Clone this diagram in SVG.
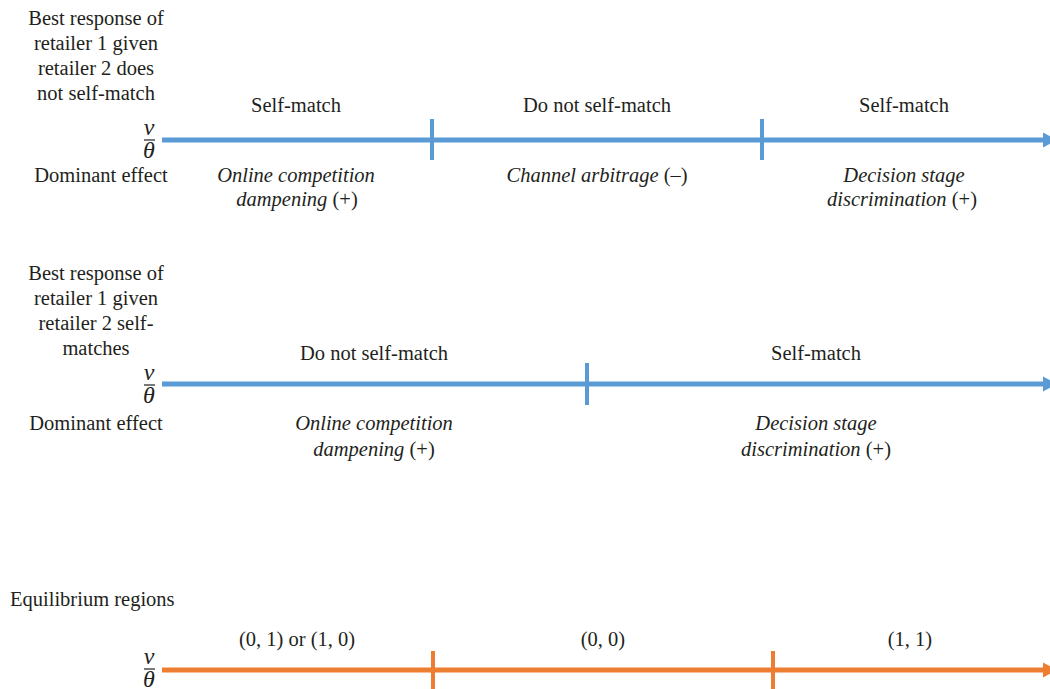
<svg xmlns="http://www.w3.org/2000/svg" width="1050" height="689" viewBox="0 0 1050 689">
<style>
text{font-family:"Liberation Serif","Times New Roman",serif;font-size:20.5px;fill:#231f20}
.c{text-anchor:middle}
.i{font-style:italic}
.f{font-size:24px}
.b{stroke:#5b9bd5;stroke-width:5}
.bt{stroke:#5b9bd5;stroke-width:4}
.o{stroke:#ed7d31;stroke-width:5}
.ot{stroke:#ed7d31;stroke-width:4}
.fb{stroke:#231f20;stroke-width:1.2}
</style>
<rect width="1050" height="689" fill="#fff"/>
<g id="panel1">
<text class="c" x="96" y="25">Best response of</text>
<text class="c" x="96" y="50">retailer 1 given</text>
<text class="c" x="96" y="75">retailer 2 does</text>
<text class="c" x="96" y="100">not self-match</text>
<text class="c i f" x="149" y="135">v</text>
<line class="fb" x1="144" y1="140" x2="155" y2="140"/>
<text class="c i f" x="149" y="158">θ</text>
<text class="c" x="101" y="182">Dominant effect</text>
<text class="c" x="296" y="112">Self-match</text>
<text class="c" x="597" y="112">Do not self-match</text>
<text class="c" x="904" y="112">Self-match</text>
<text class="c i" x="296" y="182">Online competition</text>
<text class="c" x="297" y="206"><tspan class="i">dampening</tspan> (+)</text>
<text class="c" x="597" y="182"><tspan class="i">Channel arbitrage</tspan> (–)</text>
<text class="c i" x="904" y="182">Decision stage</text>
<text class="c" x="902" y="206"><tspan class="i">discrimination</tspan> (+)</text>
</g>
<g id="panel2">
<text class="c" x="96" y="280">Best response of</text>
<text class="c" x="96" y="305">retailer 1 given</text>
<text class="c" x="96" y="330">retailer 2 self-</text>
<text class="c" x="96" y="355">matches</text>
<text class="c i f" x="149" y="380">v</text>
<line class="fb" x1="144" y1="385" x2="155" y2="385"/>
<text class="c i f" x="149" y="403">θ</text>
<text class="c" x="96" y="430">Dominant effect</text>
<text class="c" x="374" y="360">Do not self-match</text>
<text class="c" x="816" y="360">Self-match</text>
<text class="c i" x="374" y="430">Online competition</text>
<text class="c" x="374" y="456"><tspan class="i">dampening</tspan> (+)</text>
<text class="c i" x="816" y="430">Decision stage</text>
<text class="c" x="816" y="456"><tspan class="i">discrimination</tspan> (+)</text>
</g>
<g id="panel3">
<text x="10" y="606">Equilibrium regions</text>
<text class="c i f" x="149" y="664">v</text>
<line class="fb" x1="144" y1="669" x2="155" y2="669"/>
<text class="c i f" x="149" y="687">θ</text>
<text class="c" x="297" y="646">(0, 1) or (1, 0)</text>
<text class="c" x="603" y="646">(0, 0)</text>
<text class="c" x="910" y="646">(1, 1)</text>
</g>
<g id="connectors">
<line class="b" x1="162" y1="140" x2="1044" y2="140"/>
<polygon fill="#5b9bd5" points="1043,132.5 1043,147.5 1057,140"/>
<line class="bt" x1="432" y1="119" x2="432" y2="160"/>
<line class="bt" x1="762" y1="119" x2="762" y2="160"/>
<line class="b" x1="162" y1="384" x2="1044" y2="384"/>
<polygon fill="#5b9bd5" points="1043,376.5 1043,391.5 1057,384"/>
<line class="bt" x1="587" y1="363" x2="587" y2="405"/>
<line class="o" x1="162" y1="670" x2="1044" y2="670"/>
<polygon fill="#ed7d31" points="1043,662.5 1043,677.5 1057,670"/>
<line class="ot" x1="433" y1="651" x2="433" y2="689"/>
<line class="ot" x1="773" y1="651" x2="773" y2="689"/>
</g>
</svg>
